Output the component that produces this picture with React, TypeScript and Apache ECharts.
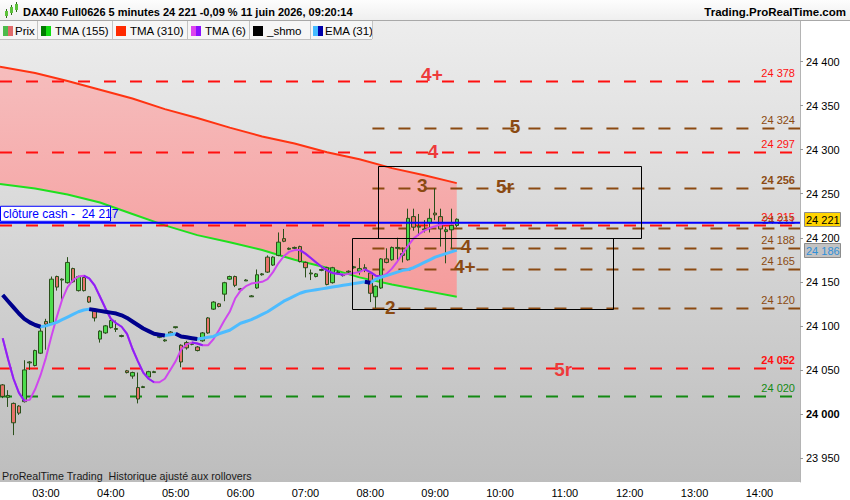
import { useEffect, useRef } from "react";
import * as echarts from "echarts";

const FONT = "'Liberation Sans', Arial, Helvetica, sans-serif";

// 5-minute bars from 02:20 to 14:35
const firstBarMinute = 140;
const lastBarMinute = 875;
const categories: string[] = [];
for (let m = firstBarMinute; m <= lastBarMinute; m += 5) {
  categories.push(String(Math.floor(m / 60)).padStart(2, "0") + ":" + String(m % 60).padStart(2, "0"));
}

// [open, close, low, high]
const candles: number[][] = [
  [24033, 24020, 24018, 24034], [24019, 24021, 24008, 24027], [24012, 23990, 23976, 24013],
  [24009, 24001, 23999, 24010], [24014, 24050, 24013, 24061], [24058, 24059, 24050, 24060],
  [24055, 24072, 24054, 24073], [24069, 24094, 24068, 24100], [24105, 24102, 24073, 24108],
  [24103, 24153, 24102, 24156], [24156, 24144, 24140, 24157], [24152, 24153, 24128, 24154],
  [24149, 24172, 24148, 24178], [24165, 24150, 24149, 24166], [24140, 24156, 24139, 24157],
  [24155, 24140, 24139, 24156], [24133, 24127, 24126, 24134], [24118, 24109, 24105, 24119],
  [24085, 24094, 24081, 24095], [24092, 24100, 24091, 24101], [24098, 24106, 24097, 24107],
  [24096, 24097, 24093, 24106], [24088, 24089, 24087, 24090], [24049, 24047, 24046, 24050],
  [24043, 24047, 24040, 24048], [24030, 24017, 24012, 24047], [24030, 24031, 24030, 24032],
  [24042, 24048, 24041, 24049], [24047, 24048, 24047, 24049], [24087, 24088, 24086, 24089],
  [24083, 24084, 24082, 24085], [24093, 24091, 24090, 24094], [24098, 24099, 24097, 24099],
  [24078, 24059, 24053, 24079], [24081, 24075, 24073, 24083], [24079, 24080, 24078, 24081],
  [24076, 24072, 24071, 24077], [24083, 24092, 24082, 24093], [24109, 24092, 24091, 24110],
  [24119, 24127, 24118, 24128], [24125, 24122, 24121, 24126], [24136, 24149, 24128, 24150],
  [24153, 24156, 24152, 24157], [24156, 24146, 24144, 24157], [24141, 24142, 24140, 24143],
  [24151, 24152, 24151, 24153], [24133, 24134, 24133, 24135], [24143, 24158, 24142, 24164],
  [24158, 24159, 24157, 24160], [24178, 24161, 24160, 24180], [24169, 24178, 24168, 24179],
  [24180, 24195, 24179, 24206], [24199, 24196, 24195, 24210], [24187, 24188, 24186, 24189],
  [24188, 24189, 24187, 24190], [24190, 24173, 24172, 24191], [24172, 24166, 24155, 24173],
  [24159, 24160, 24152, 24164], [24156, 24159, 24155, 24160], [24163, 24164, 24162, 24165],
  [24166, 24147, 24146, 24167], [24149, 24166, 24148, 24167], [24160, 24161, 24158, 24163],
  [24157, 24158, 24156, 24159], [24161, 24162, 24160, 24163], [24166, 24167, 24165, 24168],
  [24162, 24165, 24158, 24177], [24165, 24166, 24161, 24170], [24160, 24137, 24127, 24161],
  [24133, 24145, 24120, 24146], [24143, 24176, 24142, 24177], [24176, 24172, 24171, 24188],
  [24175, 24189, 24174, 24190], [24188, 24189, 24175, 24200], [24180, 24182, 24172, 24189],
  [24175, 24222, 24174, 24233], [24224, 24212, 24208, 24233], [24212, 24213, 24202, 24227],
  [24209, 24210, 24206, 24220], [24217, 24222, 24206, 24233], [24228, 24226, 24220, 24256],
  [24224, 24210, 24190, 24233], [24207, 24209, 24171, 24212], [24209, 24214, 24188, 24233],
  [24214, 24221, 24212, 24222],
];

const tma6: number[] = [
  24086, 24062, 24040, 24024, 24015, 24016, 24028, 24044, 24064, 24088,
  24110, 24130, 24144, 24152, 24156, 24157, 24154, 24146, 24133, 24120,
  24108, 24103, 24099, 24091, 24074, 24060, 24047, 24040, 24036, 24036,
  24040, 24050, 24060, 24073, 24079, 24081, 24080, 24078, 24078, 24085,
  24095, 24106, 24116, 24131, 24140, 24145, 24148, 24149, 24150, 24153,
  24161, 24171, 24179, 24184, 24186, 24186, 24182, 24177, 24172, 24167,
  24163, 24160, 24159, 24158, 24159, 24160, 24161, 24164, 24161, 24157,
  24156, 24159, 24165, 24173, 24182, 24191, 24199, 24204, 24208, 24211,
  24213, 24215, 24216, 24216, 24217,
];

const ema31: number[] = [
  24135, 24128, 24121, 24114, 24108, 24104, 24101, 24099, 24100, 24102,
  24104, 24107, 24110, 24113, 24116, 24118, 24119, 24118, 24117, 24116,
  24115, 24114, 24112, 24109, 24105, 24101, 24097, 24094, 24091, 24090,
  24089, 24090, 24091, 24088, 24087, 24086, 24085, 24086, 24087, 24088,
  24091, 24093, 24095, 24099, 24103, 24105, 24107, 24110, 24113, 24116,
  24120, 24124, 24128, 24131, 24134, 24137, 24139, 24140, 24141, 24142,
  24143, 24144, 24145, 24146, 24147, 24148, 24149, 24150, 24149, 24153,
  24155, 24157, 24159, 24161, 24163, 24164, 24166, 24169, 24172, 24175,
  24178, 24180, 24182, 24184, 24186,
];

// long moving averages, sampled along the bar index
const tmaIdx = [-0.5, 6, 12, 18, 24, 30, 36, 42, 48, 54, 60, 66, 72, 78, 84];
const tma310 = [24394, 24387, 24378, 24368, 24358, 24346, 24336, 24325, 24315, 24307, 24297, 24289, 24279, 24271, 24262];
const tma155 = [24261, 24256, 24249, 24240, 24227, 24214, 24203, 24195, 24186, 24175, 24166, 24155, 24147, 24140, 24133];

const yTicks = [23950, 24000, 24050, 24100, 24150, 24200, 24250, 24300, 24350, 24400];

// horizontal levels
const levelValues = [24378, 24324, 24297, 24256, 24215, 24211, 24188, 24165, 24120, 24052, 24020];
const levelKinds = ["red", "brown", "red", "brown", "red", "brown", "brown", "brown", "brown", "red", "green"];
const levelStart = [-0.5, 68.4, -0.5, 68.4, -0.5, 68.4, 68.4, 68.4, 68.4, -0.5, -0.5];
const levelBold = [false, false, false, true, false, false, false, false, false, true, false];

const cashValue = 24217;
const cashLabel = "clôture cash -  24 217";

// zone labels
const tagTexts = ["4+", "5", "4", "3", "5r", "4", "4+", "2", "5r"];
const tagKinds = ["red", "brown", "red", "brown", "brown", "brown", "brown", "brown", "red"];
const tagIdx = [79.4, 94.8, 79.6, 77.6, 92.9, 85.7, 85.5, 71.7, 103.7];
const tagValues = [24385, 24326, 24298, 24259, 24258, 24190, 24167, 24121, 24051];

// boxes
const boxFrom = [69.4, 64.7];
const boxTo = [118.0, 112.9];
const boxHigh = [24281, 24200];
const boxLow = [24200, 24119];

// last-value tags on the price axis
const priceTagValues = [24221, 24186];
const priceTagKinds = ["price", "ema"];

// legend entries
const legendNames = ["Prix", "TMA (155)", "TMA (310)", "TMA (6)", "_shmo", "EMA (31)"];

const COLORS: Record<string, string> = {
  red: "#ff1010",
  brown: "#8b4a12",
  green: "#138a13",
};
const TAG_COLORS: Record<string, string> = {
  red: "#ee3a3a",
  brown: "#8b4a12",
};

function fmt(v: number) {
  const s = String(Math.round(v));
  return s.slice(0, s.length - 3) + " " + s.slice(-3);
}

function falling(vals: number[]) {
  const out: (number | null)[] = vals.map(() => null);
  for (let i = 0; i + 1 < vals.length; i++) {
    if (vals[i + 1] < vals[i]) {
      out[i] = vals[i];
      out[i + 1] = vals[i + 1];
    }
  }
  return out;
}

function xAt(api: any, idx: number) {
  const band = api.size([1, 0])[0];
  const base = Math.max(0, Math.floor(idx));
  return api.coord([base, 24200])[0] + (idx - base) * band;
}

export default function App() {
  const ref = useRef<HTMLDivElement>(null);

  useEffect(() => {
    document.body.style.margin = "0";
    if (!ref.current) return;
    const chart = echarts.init(ref.current, undefined, { renderer: "svg" });

    const cellLayout = [
      { x: 0, w: 37, ix: 3, tx: 15, c1: "#4cbb4c", c2: "#e06a6a" },
      { x: 37, w: 75, ix: 41, tx: 55, c1: "#007a00", c2: "#11dd11" },
      { x: 112, w: 75, ix: 116, tx: 130, c1: "#ff2a00", c2: "#ff2a00" },
      { x: 187, w: 62, ix: 191, tx: 205, c1: "#dd44ee", c2: "#8a11ff" },
      { x: 249, w: 61, ix: 253, tx: 267, c1: "#000000", c2: "#000000" },
      { x: 310, w: 62, ix: 313, tx: 325, c1: "#44bbff", c2: "#0000aa" },
    ];
    const legendEls: any[] = [];
    legendEls.push({ type: "rect", shape: { x: 0, y: 21, width: 372, height: 18 }, style: { fill: "#f6f6f6" } });
    legendEls.push({ type: "line", shape: { x1: 0, y1: 39.5, x2: 372, y2: 39.5 }, style: { stroke: "#c0c0c0", lineWidth: 1 } });
    cellLayout.forEach((c, k) => {
      legendEls.push({ type: "rect", shape: { x: c.ix, y: 26, width: 5, height: 10 }, style: { fill: c.c1 } });
      legendEls.push({ type: "rect", shape: { x: c.ix + 5, y: 26, width: 5, height: 10 }, style: { fill: c.c2 } });
      legendEls.push({
        type: "text", x: c.tx, y: 31,
        style: { text: legendNames[k], fill: "#000", font: `11.5px ${FONT}`, verticalAlign: "middle", align: "left" },
      });
      legendEls.push({ type: "line", shape: { x1: c.x + c.w + 0.5, y1: 21, x2: c.x + c.w + 0.5, y2: 39 }, style: { stroke: "#c4c4c4", lineWidth: 1 } });
    });

    const headerEls: any[] = [
      {
        type: "rect", shape: { x: 0, y: 0, width: 850, height: 20 },
        style: { fill: new echarts.graphic.LinearGradient(0, 0, 0, 1, [{ offset: 0, color: "#fdfdfd" }, { offset: 1, color: "#efefef" }]) },
      },
      { type: "line", shape: { x1: 0, y1: 20.5, x2: 850, y2: 20.5 }, style: { stroke: "#a8a8a8", lineWidth: 1 } },
      { type: "line", shape: { x1: 6.5, y1: 9, x2: 6.5, y2: 18 }, style: { stroke: "#2f6a1a", lineWidth: 1 } },
      { type: "rect", shape: { x: 5, y: 11, width: 3, height: 5 }, style: { fill: "#5cc23a" } },
      { type: "line", shape: { x1: 11.5, y1: 5, x2: 11.5, y2: 15 }, style: { stroke: "#2f6a1a", lineWidth: 1 } },
      { type: "rect", shape: { x: 10, y: 7, width: 3, height: 6 }, style: { fill: "#5cc23a" } },
      { type: "line", shape: { x1: 16.5, y1: 2, x2: 16.5, y2: 12 }, style: { stroke: "#2f6a1a", lineWidth: 1 } },
      { type: "rect", shape: { x: 15, y: 4, width: 3, height: 6 }, style: { fill: "#5cc23a" } },
      {
        type: "text", x: 23, y: 12,
        style: { text: "DAX40 Full0626 5 minutes 24 221 -0,09 % 11 juin 2026, 09:20:14", fill: "#000", font: `bold 11px ${FONT}`, verticalAlign: "middle" },
      },
      {
        type: "text", x: 846, y: 12,
        style: { text: "Trading.ProRealTime.com", fill: "#000", font: `bold 11.5px ${FONT}`, verticalAlign: "middle", align: "right" },
      },
      {
        type: "text", x: 2, y: 476,
        style: { text: "ProRealTime Trading  Historique ajusté aux rollovers", fill: "#1a1a1a", font: `10.7px ${FONT}`, verticalAlign: "middle" },
      },
    ];

    const option: any = {
      animation: false,
      backgroundColor: "#ffffff",
      grid: {
        left: 0, right: 50, top: 21, bottom: 18, show: true, borderWidth: 0,
        backgroundColor: new echarts.graphic.LinearGradient(0, 0, 0, 1, [
          { offset: 0, color: "#ededed" },
          { offset: 1, color: "#bdbdbd" },
        ]),
      },
      xAxis: {
        type: "category",
        data: categories,
        boundaryGap: true,
        axisLine: { show: false },
        axisTick: { show: false },
        splitLine: { show: false },
        axisLabel: {
          interval: (_i: number, v: string) => v.slice(3) === "00",
          color: "#000", fontSize: 11, fontFamily: FONT, margin: 5,
        },
      },
      yAxis: {
        type: "value",
        position: "right",
        min: 23922.8,
        max: 24446,
        scale: true,
        splitLine: { show: false },
        axisLine: { show: true, lineStyle: { color: "#b4b4b4", width: 1 } },
        axisTick: { show: true, length: 3, customValues: yTicks, lineStyle: { color: "#999" } },
        axisLabel: {
          customValues: yTicks,
          margin: 6,
          color: "#000",
          fontSize: 11,
          fontFamily: FONT,
          formatter: (v: number) => (v === 24000 ? "{b|" + fmt(v) + "}" : fmt(v)),
          rich: { b: { fontWeight: "bold", fontSize: 11, fontFamily: FONT, color: "#000" } },
        },
      },
      graphic: { elements: [...headerEls, ...legendEls].map((e) => ({ ...e, z: 100 })) },
      series: [
        {
          // band between TMA(310) and TMA(155) + the two lines
          type: "custom",
          z: 1,
          silent: true,
          data: [[0, tma310[0]]],
          renderItem: (_p: any, api: any) => {
            const top = tmaIdx.map((ix, k) => [xAt(api, ix), api.coord([0, tma310[k]])[1]]);
            const bot = tmaIdx.map((ix, k) => [xAt(api, ix), api.coord([0, tma155[k]])[1]]);
            return {
              type: "group",
              children: [
                {
                  type: "polygon", shape: { points: [...top, ...bot.slice().reverse()] },
                  style: {
                    fill: new echarts.graphic.LinearGradient(0, 0, 0, 1, [
                      { offset: 0, color: "#f6bdbd" },
                      { offset: 1, color: "#f59c9c" },
                    ]),
                  },
                },
                { type: "polyline", shape: { points: top }, style: { stroke: "#ff3311", lineWidth: 2, fill: "none" } },
                { type: "polyline", shape: { points: bot }, style: { stroke: "#1ee01e", lineWidth: 2, fill: "none" } },
              ],
            };
          },
        },
        {
          // horizontal levels
          type: "custom",
          z: 2,
          silent: true,
          data: levelValues.map((v, i) => [i, v]),
          renderItem: (p: any, api: any) => {
            const i = p.dataIndex;
            const cs = p.coordSys;
            const y = Math.round(api.coord([0, levelValues[i]])[1]) + 0.5;
            const x0 = levelStart[i] < 0 ? cs.x : xAt(api, levelStart[i]);
            const x1 = cs.x + cs.width;
            const col = COLORS[levelKinds[i]];
            return {
              type: "group",
              children: [
                { type: "line", shape: { x1: x0, y1: y, x2: x1, y2: y }, style: { stroke: col, lineWidth: 2, lineDash: [12, 14] } },
                {
                  type: "text", x: x1 - 5, y: y - 3,
                  style: {
                    text: fmt(levelValues[i]), fill: col, align: "right", verticalAlign: "bottom",
                    font: `${levelBold[i] ? "bold " : ""}11px ${FONT}`,
                  },
                },
              ],
            };
          },
        },
        {
          type: "candlestick",
          z: 3,
          barWidth: 4,
          data: candles,
          itemStyle: {
            color: "#4cdc4c",
            color0: "#e8736b",
            borderColor: "#2a4f1a",
            borderColor0: "#2a4f1a",
            borderWidth: 1,
          },
        },
        {
          type: "line", z: 4, data: tma6, symbol: "none", showSymbol: false, silent: true,
          lineStyle: { color: "#cf47ee", width: 2 },
        },
        {
          type: "line", z: 4, data: falling(tma6), symbol: "none", showSymbol: false, silent: true,
          lineStyle: { color: "#8f22f5", width: 2 },
        },
        {
          type: "line", z: 4, data: ema31, symbol: "none", showSymbol: false, silent: true,
          lineStyle: { color: "#4dbcff", width: 3 },
        },
        {
          type: "line", z: 4, data: falling(ema31), symbol: "none", showSymbol: false, silent: true,
          lineStyle: { color: "#00008c", width: 4 },
        },
        {
          // cash close line
          type: "custom",
          z: 5,
          silent: true,
          data: [[0, cashValue]],
          renderItem: (p: any, api: any) => {
            const cs = p.coordSys;
            const y = api.coord([0, cashValue])[1];
            return {
              type: "group",
              children: [
                { type: "line", shape: { x1: cs.x, y1: y, x2: cs.x + cs.width, y2: y }, style: { stroke: "#0000ff", lineWidth: 2 } },
                { type: "rect", shape: { x: cs.x + 0.5, y: y - 16.5, width: 110, height: 15 }, style: { fill: "#ffffff", stroke: "#0000ff", lineWidth: 1 } },
                { type: "text", x: cs.x + 3, y: y - 9, style: { text: cashLabel, fill: "#0000ff", font: `12px ${FONT}`, verticalAlign: "middle" } },
              ],
            };
          },
        },
        {
          // boxes
          type: "custom",
          z: 5,
          silent: true,
          data: boxFrom.map((_v, i) => [i, boxHigh[i]]),
          renderItem: (p: any, api: any) => {
            const i = p.dataIndex;
            const xa = Math.round(xAt(api, boxFrom[i])) + 0.5;
            const xb = Math.round(xAt(api, boxTo[i])) + 0.5;
            const ya = Math.round(api.coord([0, boxHigh[i]])[1]) + 0.5;
            const yb = Math.round(api.coord([0, boxLow[i]])[1]) + 0.5;
            return {
              type: "rect",
              shape: { x: xa, y: ya, width: xb - xa, height: yb - ya },
              style: { fill: "none", stroke: "#000", lineWidth: 1 },
            };
          },
        },
        {
          // zone tags
          type: "custom",
          z: 6,
          silent: true,
          data: tagTexts.map((_t, i) => [i, tagValues[i]]),
          renderItem: (p: any, api: any) => {
            const i = p.dataIndex;
            return {
              type: "text",
              x: xAt(api, tagIdx[i]),
              y: api.coord([0, tagValues[i]])[1],
              style: {
                text: tagTexts[i], fill: TAG_COLORS[tagKinds[i]], align: "center", verticalAlign: "middle",
                font: `bold 19px ${FONT}`,
              },
            };
          },
        },
        {
          // last-value tags on the axis
          type: "custom",
          z: 7,
          silent: true,
          clip: false,
          data: priceTagValues.map((v, i) => [i, v]),
          renderItem: (p: any, api: any) => {
            const i = p.dataIndex;
            const cs = p.coordSys;
            const y = api.coord([0, priceTagValues[i]])[1];
            const isPrice = priceTagKinds[i] === "price";
            return {
              type: "group",
              children: [
                {
                  type: "rect", shape: { x: cs.x + cs.width + 4.5, y: Math.round(y - 7) + 0.5, width: 36, height: 14 },
                  style: { fill: isPrice ? "#ffd400" : "#c2c2c2", stroke: "#8c8c8c", lineWidth: 1 },
                },
                {
                  type: "text", x: cs.x + cs.width + 6, y: y + 0.5,
                  style: { text: fmt(priceTagValues[i]), fill: isPrice ? "#000" : "#2f8fd8", font: `11px ${FONT}`, verticalAlign: "middle" },
                },
              ],
            };
          },
        },
      ],
    };

    chart.setOption(option);
    return () => chart.dispose();
  }, []);

  return <div ref={ref} style={{ width: 850, height: 500 }} />;
}
